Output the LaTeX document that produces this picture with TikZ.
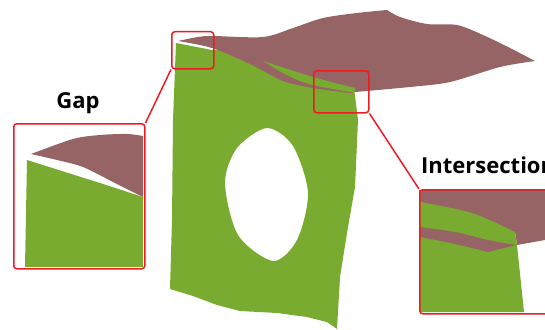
\documentclass[tikz,border=0pt]{standalone}
\usepackage{fontspec}
\setmainfont{Open Sans}
\usepackage{tikz}
\usetikzlibrary{calc,positioning}
\definecolor{shellgreen}{RGB}{122,171,49}
\definecolor{shellbrown}{RGB}{150,100,100}
\definecolor{zoomred}{RGB}{237,28,36}
\tikzset{
  zoombox/.style={draw=zoomred,line width=1.5pt,rounded corners=3pt,inner sep=0pt,anchor=north west},
  zoomline/.style={draw=zoomred,line width=1.5pt},
  caption/.style={font=\bfseries\fontsize{22}{26}\selectfont,inner sep=0pt}
}
\begin{document}
\begin{tikzpicture}[x=1pt,y=-1pt]
            \useasboundingbox (0,0) rectangle (545,329);
            \fill[shellgreen,even odd rule] (176,43) -- (212,50) -- (225,50) -- (250,60) -- (290,80) -- (354,88)
              -- (358,120) -- (355,187) -- (347,233) -- (340,277) -- (337,329) -- (327,322) -- (307,317)
              -- (277,313) -- (240,311) -- (217,305) -- (193,296) -- (170,289) -- (172,220) -- (173,120) -- cycle
              plot[smooth cycle] coordinates {(267,128) (237,148) (225,183) (238,235) (273,261) (297,240) (308,193) (293,146)};
            \fill[shellbrown] plot[smooth] coordinates {(178,41) (198,37) (213,36) (263,37) (293,28) (323,18) (357,13) (387,10)}
              -- plot[smooth] coordinates {(387,10) (400,17) (427,24) (457,25) (483,35) (510,48) (535,61)}
              -- plot[smooth] coordinates {(535,61) (500,67) (450,82) (410,87) (355,92)}
              -- plot[smooth] coordinates {(350,93) (313,88) (283,81) (250,64) (212,48) (178,41)} -- cycle;
            \fill[shellgreen] plot[smooth] coordinates {(263,61) (313,77) (355,88)} -- (355,92)
              -- plot[smooth] coordinates {(350,92) (317,86) (300,81) (283,73) (263,61)} -- cycle;
            \fill[shellbrown] plot[smooth] coordinates {(31,154) (73,139) (100,135) (127,134) (143,136)} -- (143,197)
              -- plot[smooth] coordinates {(143,197) (113,182) (83,167) (57,160) (31,154)} -- cycle;
            \fill[shellgreen] (27,160) -- (100,183) -- (143,197) -- (143,267) -- (25,267) -- cycle;
            \fill[shellbrown] (419,190) -- (545,190) -- (545,240) -- (517,245) -- (515,232) -- (419,202) -- cycle;
            \fill[shellgreen] plot[smooth] coordinates {(420,202) (472,213) (515,232)} -- (517,245) -- (524,312) -- (420,312) -- cycle;
            \fill[shellbrown] plot[smooth] coordinates {(420,227) (455,232) (488,240) (516,245)} -- (488,252)
              -- plot[smooth] coordinates {(488,252) (455,244) (420,237)} -- cycle;
            \node[zoombox,minimum width=42,minimum height=37] (gapview) at (171,31) {};
            \node[zoombox,minimum width=55,minimum height=42] (crossview) at (313,70) {};
            \node[zoombox,minimum width=131,minimum height=145] (gapbox) at (13,123) {};
            \node[zoombox,minimum width=140,minimum height=124] (crossbox) at (419,189) {};
            \draw[zoomline] (gapview.south west) -- (gapbox.north east);
            \draw[zoomline] (crossview.south east) -- (crossbox.north west);
            \node[caption] (gaplabel) at (78,103) {Gap};
            \node[caption,anchor=base west] (crosslabel) at (421,173) {Intersection};
        \end{tikzpicture}
\end{document}
